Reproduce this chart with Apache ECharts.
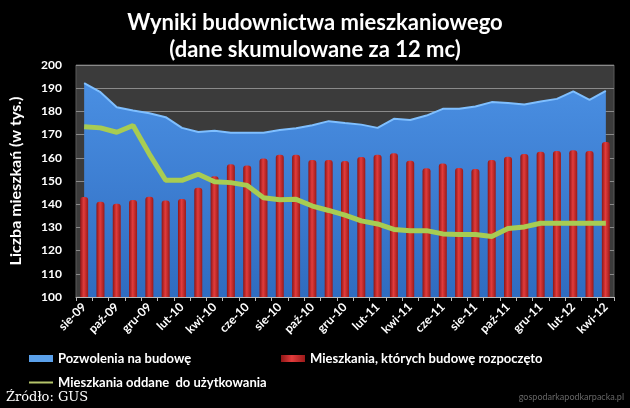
<!DOCTYPE html>
<html><head><meta charset="utf-8">
<script src="https://cdn.jsdelivr.net/npm/echarts@6/dist/echarts.min.js"></script>
<style>html,body{margin:0;padding:0;background:#000;}#c{width:630px;height:408px;}</style>
</head><body><div id="c"></div>
<script>
var categories = ['sie-09','wrz-09','paź-09','lis-09','gru-09','sty-10','lut-10','mar-10','kwi-10','maj-10','cze-10','lip-10','sie-10','wrz-10','paź-10','lis-10','gru-10','sty-11','lut-11','mar-11','kwi-11','maj-11','cze-11','lip-11','sie-11','wrz-11','paź-11','lis-11','gru-11','sty-12','lut-12','mar-12','kwi-12'];
var pozwolenia = [192.2,188.3,181.8,180.4,179.2,177.5,172.9,171.1,171.7,170.8,170.8,170.8,172.0,172.7,174.0,175.8,175.0,174.3,172.9,176.8,176.3,178.2,181.1,181.1,182.1,184.0,183.6,183.0,184.3,185.4,188.6,185.0,188.8];
var rozpoczete = [143.1,141.1,140.2,141.8,143.2,141.6,142.2,147.1,152.0,157.2,156.7,159.7,161.3,161.3,159.0,159.0,158.6,160.3,161.3,162.0,158.7,155.5,157.5,155.6,155.2,159.0,160.4,161.6,162.6,162.9,163.3,162.9,166.8];
var oddane = [173.4,172.9,171.0,173.9,161.6,150.3,150.3,152.9,149.7,149.3,148.1,142.8,141.9,142.1,139.2,137.3,135.3,132.8,131.5,129.1,128.6,128.6,127.2,126.9,126.9,126.1,129.5,130.2,131.8,131.8,131.8,131.8,131.8];
var seriesNames = ['Pozwolenia na budowę','Mieszkania, których budowę rozpoczęto','Mieszkania oddane  do użytkowania'];
var titleLines = ['Wyniki budownictwa mieszkaniowego','(dane skumulowane za 12 mc)'];
var yAxisName = 'Liczba mieszkań (w tys.)';
var sourceText = 'Źródło: GUS';
var watermark = 'gospodarkapodkarpacka.pl';

var chart = echarts.init(document.getElementById('c'), null, {renderer:'canvas'});
var font = 'Lato, "Open Sans", sans-serif';
var legText = {color:'#fff', fontSize:13, fontFamily:font, fontWeight:'bold'};
chart.setOption({
  backgroundColor:'#000',
  animation:false,
  title:{text:titleLines.join('\n'), left:'center', top:4,
    textStyle:{color:'#fff', fontSize:22, fontWeight:'bold', fontFamily:font, lineHeight:27}},
  grid:{left:73, right:16, top:65, bottom:111, show:true, backgroundColor:'#3b3b3b', borderColor:'#5a5a5a', borderWidth:1},
  legend:[
    {data:[{name:seriesNames[0], icon:'rect', itemStyle:{color:'#5aa0ea'}}], left:24, top:347, itemWidth:24, itemHeight:7,
      textStyle:legText},
    {data:[{name:seriesNames[1], icon:'rect'}], left:276, top:347, itemWidth:24, itemHeight:7,
      textStyle:legText},
    {data:[{name:seriesNames[2], icon:'rect', itemStyle:{color:'#b5c46a'}}], left:24, top:371, itemWidth:24, itemHeight:2,
      textStyle:legText}
  ],
  xAxis:{type:'category', data:categories, boundaryGap:true,
    axisLine:{lineStyle:{color:'#bbb', width:1}},
    axisTick:{show:true, alignWithLabel:false, interval:0, length:4, lineStyle:{color:'#bbb'}},
    axisLabel:{interval:1, rotate:45, color:'#fff', fontSize:12, fontWeight:'bold', fontFamily:font, margin:8}},
  yAxis:{type:'value', min:100, max:200, interval:10,
    name:yAxisName, nameLocation:'middle', nameGap:52, nameRotate:90,
    nameTextStyle:{color:'#fff', fontSize:16, fontWeight:'bold', fontFamily:font},
    axisLine:{show:false}, axisTick:{show:false},
    splitLine:{lineStyle:{color:'#8a8a8a', width:1}},
    axisLabel:{color:'#fff', fontSize:12, fontWeight:'bold', fontFamily:font, margin:14}},
  series:[
    {name:seriesNames[0], type:'line', data:pozwolenia, symbol:'none', z:1,
      itemStyle:{color:'#4a8fe0'},
      lineStyle:{color:'#7fbfff', width:2},
      areaStyle:{origin:'start', opacity:1, color:{type:'linear',x:0,y:0,x2:0,y2:1,colorStops:[{offset:0,color:'#4a8fe2'},{offset:1,color:'#2f6cc0'}]}}},
    {name:seriesNames[1], type:'bar', data:rozpoczete, barWidth:8, z:2,
      itemStyle:{color:{type:'linear',x:0,y:0,x2:1,y2:0,colorStops:[{offset:0,color:'#8f1515'},{offset:0.45,color:'#e23c3c'},{offset:1,color:'#9a1a1a'}]}, borderRadius:[3,3,0,0]}},
    {name:seriesNames[2], type:'line', data:oddane, symbol:'none', z:3,
      itemStyle:{color:'#a8cc52'},
      lineStyle:{color:'#a8cc52', width:5}}
  ],
  graphic:[
    {type:'text', left:6, top:391, style:{text:sourceText, fill:'#fff', fontSize:13, fontFamily:'"DejaVu Serif", "Liberation Serif", serif'}},
    {type:'text', right:6, top:393, style:{text:watermark, fill:'#666', fontSize:9, fontFamily:font}}
  ]
});
</script></body></html>
